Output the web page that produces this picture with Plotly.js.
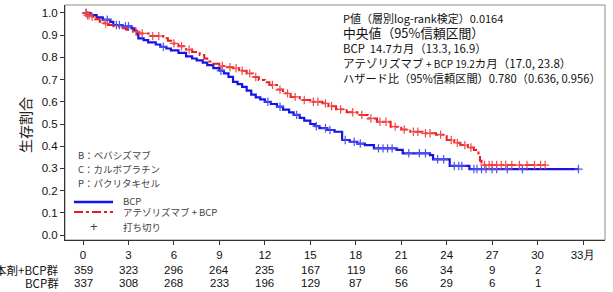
<!DOCTYPE html>
<html>
<head>
<meta charset="utf-8">
<script src="https://cdn.plot.ly/plotly-3.0.1.min.js"></script>
<style>html,body{margin:0;padding:0;background:#fff;}#chart{width:613px;height:292px;}</style>
</head>
<body>
<div id="chart"></div>
<script>
// ---- data ----
const bcpTimes = [0,0.5,0.9,1.3,1.8,2.0,2.6,3.2,3.4,3.55,3.65,4.0,4.3,4.8,5.1,5.5,5.8,6.3,6.8,7.2,7.5,7.9,8.2,8.6,9.0,9.3,9.6,9.9,10.2,10.5,10.8,11.1,11.4,11.7,12.0,12.4,12.8,13.2,13.6,13.9,14.3,14.6,15.0,15.3,15.6,16.1,16.6,17.1,17.6,18.1,18.6,19.2,20.7,21.1,22.9,23.1,24.2,25.5,32.7];
const bcpSurv  = [1.0,0.99,0.98,0.97,0.96,0.946,0.94,0.931,0.92,0.905,0.886,0.878,0.868,0.858,0.848,0.84,0.832,0.82,0.805,0.795,0.787,0.776,0.765,0.752,0.74,0.728,0.712,0.69,0.68,0.667,0.65,0.632,0.62,0.611,0.60,0.59,0.578,0.565,0.552,0.541,0.528,0.515,0.50,0.49,0.481,0.473,0.465,0.428,0.42,0.412,0.405,0.39,0.383,0.368,0.36,0.341,0.311,0.297,0.297];
const atzTimes = [0,0.3,0.5,0.8,1.1,1.4,1.65,2.0,2.4,2.9,3.3,3.7,4.4,5.3,5.6,5.9,6.3,6.8,7.2,7.7,8.0,8.2,8.6,9.0,9.5,9.9,10.3,10.8,11.2,11.6,12.0,12.3,12.8,13.2,13.7,14.3,15.0,15.8,16.2,16.7,17.4,18.1,18.8,19.4,20.3,21.0,21.6,22.4,23.3,24.0,24.5,24.9,25.4,25.8,26.1,26.2,26.3,30.5];
const atzSurv  = [1.0,0.99,0.983,0.972,0.961,0.953,0.946,0.94,0.931,0.924,0.916,0.908,0.896,0.886,0.875,0.863,0.85,0.835,0.824,0.811,0.795,0.781,0.771,0.761,0.756,0.751,0.74,0.728,0.712,0.698,0.688,0.676,0.655,0.638,0.622,0.608,0.60,0.593,0.58,0.566,0.553,0.541,0.525,0.51,0.488,0.475,0.465,0.458,0.452,0.428,0.415,0.405,0.394,0.383,0.36,0.335,0.315,0.315];
const bcpCensor = [0.2,1.6,2.2,2.4,2.8,3.0,5.3,9.1,12.2,13.0,14.1,15.4,16.0,16.3,17.3,17.9,18.3,19.5,19.8,20.1,20.4,21.5,22.2,22.6,23.4,23.8,24.5,24.8,25.0,25.8,26.0,26.3,26.6,27.0,27.3,28.0,29.0,32.7];
const atzCensor = [0.2,0.3,0.4,0.6,1.5,3.5,3.9,4.6,5.0,6.0,6.5,7.0,9.2,9.7,10.1,10.5,11.0,11.4,12.5,13.0,13.5,14.0,14.6,15.2,15.5,16.0,16.4,17.0,17.8,18.4,19.0,19.6,20.0,20.6,21.2,21.8,22.1,22.6,22.9,23.6,24.3,24.7,25.2,25.6,26.5,26.8,27.0,27.3,27.6,27.9,28.3,28.8,29.3,29.8,30.2,30.5];
const tickMonths = [0,3,6,9,12,15,18,21,24,27,30,33];
const tickLabels = ["0","3","6","9","12","15","18","21","24","27","30","33月"];
const atRiskAtz = [359,323,296,264,235,167,119,66,34,9,2];
const atRiskBcp = [337,308,268,233,196,129,87,56,29,6,1];
const rowLabels = ["本剤+BCP群","BCP群"];
const infoLines = [
  "P値（層別log-rank検定）0.0164",
  "中央値（95%信頼区間）",
  "BCP  14.7カ月（13.3, 16.9）",
  "アテゾリズマブ <span style='font-size:10px'>+ BCP 19.2</span>カ月（17.0, 23.8）",
  "ハザード比（95%信頼区間）0.780（0.636, 0.956）"
];
const abbrevLines = ["B：ベバシズマブ","C：カルボプラチン","P：パクリタキセル"];
const legendNames = ["BCP","アテゾリズマブ + BCP","打ち切り"];

// ---- helpers ----
function stepAt(times, surv, t){ let v = surv[0]; for(let i=0;i<times.length;i++){ if(times[i] <= t) v = surv[i]; } return v; }
const BLUE = "#1414e6", RED = "#f01818";
const jp = "Noto Sans CJK JP, sans-serif";
const sans = "Liberation Sans, Arial, sans-serif";

const traces = [
  {x: bcpTimes, y: bcpSurv, mode:"lines", line:{shape:"hv", color:BLUE, width:2.2}, showlegend:false, hoverinfo:"skip"},
  {x: atzTimes, y: atzSurv, mode:"lines", line:{shape:"hv", color:RED, width:2, dash:"dashdot"}, showlegend:false, hoverinfo:"skip"},
  {x: bcpCensor, y: bcpCensor.map(t=>stepAt(bcpTimes,bcpSurv,t)), mode:"markers", marker:{symbol:"cross-thin", size:6, line:{color:"#5050f0", width:1.2}}, showlegend:false, hoverinfo:"skip"},
  {x: atzCensor, y: atzCensor.map(t=>stepAt(atzTimes,atzSurv,t)), mode:"markers", marker:{symbol:"cross-thin", size:6, line:{color:"#f04848", width:1.2}}, showlegend:false, hoverinfo:"skip"}
];

const L=65, T=5, W=540, H=235;
const px = x => (x - L)/W;
const py = y => (T + H - y)/H;

const ann = [];
// y axis title
ann.push({xref:"paper", yref:"paper", x:px(25), y:py(125), text:"生存割合", textangle:-90, showarrow:false, font:{family:jp, size:14, color:"#222"}, xanchor:"center", yanchor:"middle"});
// info block
const infoY = [18,33,48,63,78];
const infoSize = [11,12.8,11.3,11.5,11.2];
infoLines.forEach((s,i)=>ann.push({xref:"paper", yref:"paper", x:px(341), y:py(infoY[i]), text:s, showarrow:false, xanchor:"left", yanchor:"middle", font:{family:jp, size:infoSize[i], color:"#111"}}));
// abbreviations
const abY = [155,169,183];
abbrevLines.forEach((s,i)=>ann.push({xref:"paper", yref:"paper", x:px(76), y:py(abY[i]), text:s, showarrow:false, xanchor:"left", yanchor:"middle", font:{family:jp, size:9.5, color:"#444"}}));
// legend texts
const lgY = [201,212,227];
legendNames.forEach((s,i)=>ann.push({xref:"paper", yref:"paper", x:px(121), y:py(lgY[i]), text:s, showarrow:false, xanchor:"left", yanchor:"middle", font:{family:jp, size:9.5, color:"#444"}}));
ann.push({xref:"paper", yref:"paper", x:px(94), y:py(226), text:"+", showarrow:false, xanchor:"center", yanchor:"middle", font:{family:sans, size:13, color:"#444"}});
// at risk rows
const rowY = [270,283];
[atRiskAtz, atRiskBcp].forEach((row,r)=>{
  row.forEach((v,i)=>ann.push({xref:"x", yref:"paper", x:tickMonths[i], y:py(rowY[r]), text:String(v), showarrow:false, xanchor:"center", yanchor:"middle", font:{family:sans, size:11.5, color:"#111"}}));
  ann.push({xref:"paper", yref:"paper", x:px(61), y:py(rowY[r]), text:rowLabels[r], showarrow:false, xanchor:"right", yanchor:"middle", font:{family:jp, size:11.5, color:"#111"}});
});

const shapes = [
  {type:"rect", xref:"paper", yref:"paper", x0:0, x1:1, y0:0, y1:1, line:{color:"#8c8c8c", width:1}, layer:"below"},
  {type:"line", xref:"paper", yref:"paper", x0:px(74), x1:px(113), y0:py(202), y1:py(202), line:{color:BLUE, width:2.5}},
  {type:"line", xref:"paper", yref:"paper", x0:px(74), x1:px(113), y0:py(212), y1:py(212), line:{color:RED, width:2, dash:"dashdot"}}
];

const layout = {
  width:613, height:292,
  margin:{l:L, r:613-L-W, t:T, b:292-T-H, pad:0},
  paper_bgcolor:"#fff", plot_bgcolor:"#fff",
  showlegend:false,
  xaxis:{range:[-1.19,34.45], tickvals:tickMonths, ticktext:tickLabels, showgrid:false, zeroline:false,
         showline:true, linecolor:"#333", linewidth:1, ticks:"outside", ticklen:4, tickcolor:"#333",
         tickfont:{family:sans, size:11.5, color:"#111"}},
  yaxis:{range:[-0.0225,1.036], tickvals:[0,0.1,0.2,0.3,0.4,0.5,0.6,0.7,0.8,0.9,1.0], tickformat:".1f", showgrid:false, zeroline:false,
         showline:true, linecolor:"#333", linewidth:1, ticks:"outside", ticklen:4, tickcolor:"#333",
         tickfont:{family:sans, size:11.5, color:"#111"}},
  annotations: ann,
  shapes: shapes
};
Plotly.newPlot("chart", traces, layout, {staticPlot:true, displayModeBar:false});
</script>
</body>
</html>
